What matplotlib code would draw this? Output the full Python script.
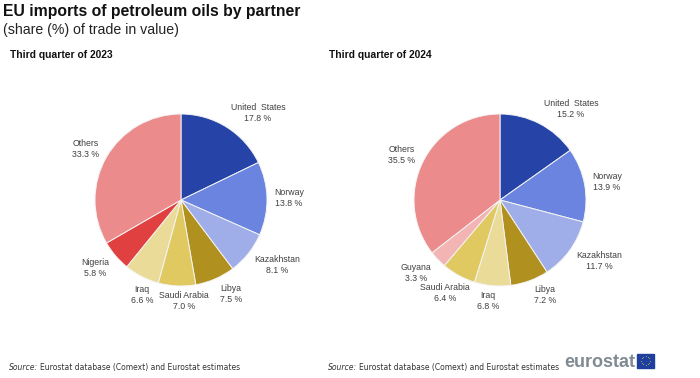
import numpy as np
import matplotlib
matplotlib.use("Agg")
import matplotlib.pyplot as plt
from matplotlib.patches import Rectangle

W, H = 700, 378

partners_2023 = ["United  States", "Norway", "Kazakhstan", "Libya", "Saudi Arabia", "Iraq", "Nigeria", "Others"]
values_2023 = [17.8, 13.8, 8.1, 7.5, 7.0, 6.6, 5.8, 33.3]
colors_2023 = ["#2644A7", "#6A84E0", "#9FAEE8", "#B09120", "#E1C962", "#EBDB98", "#E04040", "#EC8B8B"]
label_pos_2023 = [(258, 113), (289, 198), (277, 265), (231, 294), (184, 301), (142, 295), (95, 268), (86, 149)]

partners_2024 = ["United  States", "Norway", "Kazakhstan", "Libya", "Iraq", "Saudi Arabia", "Guyana", "Others"]
values_2024 = [15.2, 13.9, 11.7, 7.2, 6.8, 6.4, 3.3, 35.5]
colors_2024 = ["#2644A7", "#6A84E0", "#9FAEE8", "#B09120", "#EBDB98", "#E1C962", "#F3B4B4", "#EC8B8B"]
label_pos_2024 = [(571, 109), (607, 182), (599, 261), (545, 295), (488, 301), (445, 293), (416, 273), (402, 155)]

plt.rcParams["font.family"] = ["Liberation Sans", "DejaVu Sans"]

fig = plt.figure(figsize=(W / 100, H / 100), dpi=100)


def put(x, y, s, **kw):
    # positions are given in pixels from the top left
    fig.text(x / W, 1 - y / H, s, **kw)


def draw_pie(cx, cy, r, values, colors, names, positions):
    ax = fig.add_axes([(cx - r - 2) / W, 1 - (cy + r + 2) / H, (2 * r + 4) / W, (2 * r + 4) / H])
    ax.pie(values, colors=colors, startangle=90, counterclock=False, radius=r / (r + 2),
           wedgeprops={"edgecolor": "#F4F4F4", "linewidth": 0.7})
    ax.set_xlim(-1, 1)
    ax.set_ylim(-1, 1)
    for name, v, (x, y) in zip(names, values, positions):
        put(x, y, f"{name}\n{v:.1f} %", ha="center", va="center", fontsize=6.3,
            color="#404040", linespacing=1.3)


draw_pie(181, 200, 86, values_2023, colors_2023, partners_2023, label_pos_2023)
draw_pie(500, 200, 86, values_2024, colors_2024, partners_2024, label_pos_2024)

put(3, 16, "EU imports of petroleum oils by partner", fontsize=11.3, fontweight="bold", va="baseline", color="#111111")
put(3, 34, "(share (%) of trade in value)", fontsize=10.2, va="baseline", color="#222222")
put(10, 58, "Third quarter of 2023", fontsize=7.4, fontweight="bold", va="baseline", color="#111111")
put(329, 58, "Third quarter of 2024", fontsize=7.4, fontweight="bold", va="baseline", color="#111111")

# source lines
for x0 in (9, 328):
    put(x0, 370, "Source:", fontsize=5.5, style="italic", family="DejaVu Sans", va="baseline", color="#333333")
    put(x0 + 31, 370, "Eurostat database (Comext) and Eurostat estimates", fontsize=5.5,
        family="DejaVu Sans", va="baseline", color="#333333")

# logo
put(564.5, 367, "eurostat", fontsize=13, fontweight="bold", va="baseline", color="#7F8A93")
flag = fig.add_axes([0, 0, 1, 1], facecolor="none")
flag.set_xlim(0, W)
flag.set_ylim(H, 0)
flag.axis("off")
flag.add_patch(Rectangle((637, 353.5), 17, 14, color="#1F3F9E"))
a = np.arange(12) * np.pi / 6
flag.scatter(645.5 + 4.5 * np.cos(a), 360.5 + 4.5 * np.sin(a), s=1.2, color="#E8D44D", marker="*", linewidths=0)

fig.savefig("out.png", dpi=100)
